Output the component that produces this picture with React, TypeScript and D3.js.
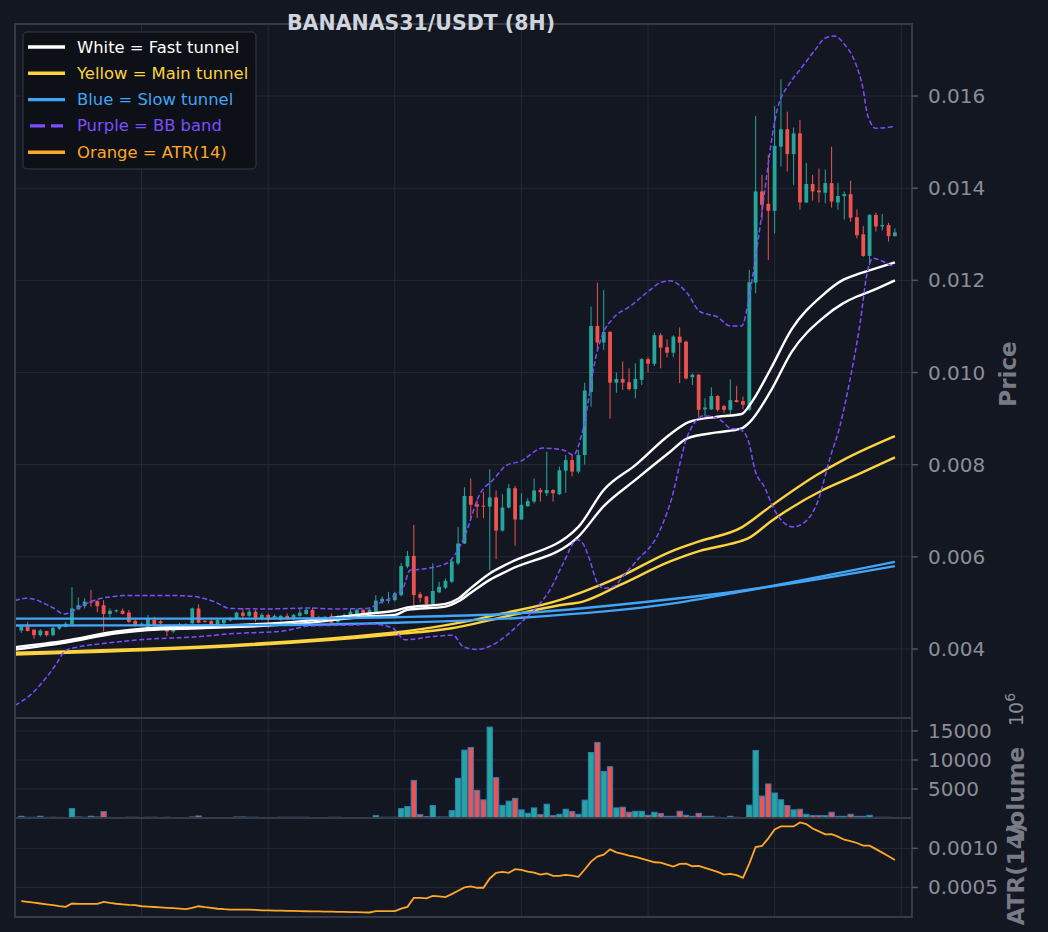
import * as d3 from 'd3'

// candles are indexed 1..139 (8H bars)
const OPEN = [
  0.0044, 0.00449, 0.00442, 0.0043, 0.00439, 0.0043, 0.00444, 0.00448, 0.00454, 0.00486,
  0.00493, 0.00503, 0.00504, 0.00495, 0.00476, 0.00483, 0.00483, 0.00479, 0.00461, 0.00452,
  0.00448, 0.00463, 0.0046, 0.0045, 0.00438, 0.00445, 0.00453, 0.00456, 0.00488, 0.00461,
  0.00461, 0.00452, 0.00456, 0.00462, 0.00467, 0.00479, 0.00472, 0.00481, 0.00467, 0.00474,
  0.00468, 0.00463, 0.00472, 0.00467, 0.00472, 0.00476, 0.00485, 0.00469, 0.00466, 0.00472,
  0.00459, 0.00469, 0.00474, 0.00474, 0.00485, 0.00474, 0.00481, 0.00503, 0.00505, 0.00506,
  0.00517, 0.00579, 0.00602, 0.00519, 0.00514, 0.00498, 0.00523, 0.00533, 0.00546, 0.00586,
  0.00629, 0.00732, 0.00714, 0.00711, 0.00709, 0.00729, 0.00657, 0.00707, 0.00749, 0.00681,
  0.0071, 0.0072, 0.00745, 0.00738, 0.00745, 0.00736, 0.00787, 0.0081, 0.00785, 0.00821,
  0.00958, 0.01101, 0.01065, 0.01088, 0.00978, 0.00986, 0.00979, 0.00964, 0.00984, 0.01029,
  0.01019, 0.01081, 0.01055, 0.01043, 0.01078, 0.01067, 0.0099, 0.00995, 0.0092, 0.0092,
  0.00949, 0.00927, 0.00919, 0.0094, 0.00938, 0.00919, 0.01195, 0.01393, 0.01366, 0.01351,
  0.0149, 0.01528, 0.01474, 0.01519, 0.01369, 0.01409, 0.01395, 0.0139, 0.01411, 0.01369,
  0.01383, 0.01387, 0.01337, 0.013, 0.01253, 0.01342, 0.01317, 0.0132, 0.01296,
]
const HIGH = [
  0.00451, 0.00459, 0.00443, 0.00443, 0.0044, 0.00448, 0.00454, 0.00459, 0.00534, 0.00512,
  0.0051, 0.00528, 0.00506, 0.00506, 0.00488, 0.00486, 0.00488, 0.00485, 0.00464, 0.00458,
  0.00474, 0.0047, 0.00463, 0.00452, 0.00448, 0.00457, 0.00456, 0.0049, 0.00497, 0.00463,
  0.00463, 0.00467, 0.00466, 0.0047, 0.00481, 0.00488, 0.00485, 0.00485, 0.00478, 0.00477,
  0.00475, 0.00474, 0.00477, 0.00476, 0.00488, 0.00488, 0.0049, 0.00472, 0.00472, 0.00477,
  0.00474, 0.00477, 0.00488, 0.00488, 0.00487, 0.00487, 0.00517, 0.00514, 0.00524, 0.00524,
  0.00587, 0.00613, 0.00669, 0.00524, 0.00515, 0.00586, 0.00546, 0.00553, 0.00597, 0.00665,
  0.00751, 0.0077, 0.00723, 0.00741, 0.0079, 0.00744, 0.00736, 0.00758, 0.00754, 0.00738,
  0.00727, 0.0077, 0.00749, 0.00828, 0.00747, 0.00796, 0.00821, 0.00823, 0.00832, 0.00978,
  0.01143, 0.01195, 0.01179, 0.0109, 0.01, 0.01024, 0.01009, 0.0102, 0.01031, 0.01033,
  0.01087, 0.01085, 0.01072, 0.01081, 0.01098, 0.01069, 0.00998, 0.00997, 0.00944, 0.00968,
  0.00951, 0.0093, 0.00985, 0.00971, 0.00948, 0.01223, 0.01557, 0.01429, 0.01472, 0.01578,
  0.01636, 0.01566, 0.01532, 0.01548, 0.01455, 0.01429, 0.01443, 0.01441, 0.0149, 0.01411,
  0.01393, 0.01416, 0.01354, 0.01318, 0.01344, 0.01347, 0.01344, 0.01325, 0.01313,
]
const LOW = [
  0.00435, 0.00438, 0.00422, 0.00427, 0.00427, 0.00428, 0.00441, 0.00447, 0.00452, 0.00485,
  0.00488, 0.00492, 0.0048, 0.00438, 0.00469, 0.00479, 0.00475, 0.00456, 0.00448, 0.00449,
  0.00445, 0.00448, 0.00448, 0.00428, 0.00435, 0.00443, 0.00448, 0.00454, 0.00456, 0.00457,
  0.0045, 0.00451, 0.00454, 0.0046, 0.00463, 0.00467, 0.00469, 0.00459, 0.00463, 0.00446,
  0.00465, 0.00461, 0.00463, 0.00464, 0.0047, 0.00474, 0.00467, 0.00463, 0.00463, 0.00456,
  0.00456, 0.00467, 0.0047, 0.00472, 0.00472, 0.00472, 0.00477, 0.00498, 0.00499, 0.00503,
  0.00514, 0.00575, 0.00492, 0.00501, 0.00495, 0.00495, 0.00521, 0.0053, 0.00543, 0.00582,
  0.00628, 0.00684, 0.00684, 0.00684, 0.0057, 0.00595, 0.00655, 0.00705, 0.00624, 0.0068,
  0.00709, 0.00716, 0.0072, 0.00732, 0.0072, 0.00734, 0.00739, 0.00775, 0.00781, 0.008,
  0.00926, 0.01049, 0.01049, 0.009, 0.00956, 0.00962, 0.00961, 0.00944, 0.00973, 0.01,
  0.01014, 0.01009, 0.01033, 0.01033, 0.00977, 0.00985, 0.00973, 0.00904, 0.00904, 0.00919,
  0.00915, 0.00913, 0.00906, 0.00935, 0.0092, 0.00916, 0.01172, 0.01331, 0.01244, 0.01302,
  0.01447, 0.01436, 0.01407, 0.01353, 0.01368, 0.01373, 0.01369, 0.01367, 0.01358, 0.01353,
  0.01332, 0.01327, 0.01291, 0.01251, 0.01233, 0.01306, 0.01308, 0.01284, 0.01295,
]
const CLOSE = [
  0.00449, 0.00439, 0.0043, 0.0044, 0.0043, 0.00446, 0.00451, 0.00455, 0.00488, 0.00495,
  0.00503, 0.00501, 0.00493, 0.00476, 0.00483, 0.00484, 0.00476, 0.00459, 0.00452, 0.00455,
  0.00467, 0.00451, 0.00456, 0.00438, 0.00445, 0.00454, 0.00451, 0.00488, 0.00457, 0.00459,
  0.00452, 0.00463, 0.00463, 0.00467, 0.00479, 0.00472, 0.00481, 0.00467, 0.00474, 0.00463,
  0.00472, 0.00472, 0.00465, 0.00474, 0.00479, 0.00485, 0.00469, 0.00466, 0.0047, 0.00457,
  0.0047, 0.00474, 0.00481, 0.00485, 0.00474, 0.00485, 0.00505, 0.00509, 0.00507, 0.00521,
  0.0058, 0.00602, 0.00517, 0.00511, 0.00498, 0.00526, 0.00535, 0.00548, 0.0059, 0.00629,
  0.00732, 0.00713, 0.00709, 0.0071, 0.00729, 0.00657, 0.00707, 0.00749, 0.00681, 0.00713,
  0.00721, 0.00744, 0.0074, 0.00745, 0.00738, 0.00788, 0.0081, 0.00785, 0.00821, 0.00961,
  0.01101, 0.01065, 0.01088, 0.00978, 0.00986, 0.00978, 0.00964, 0.00986, 0.01029, 0.01019,
  0.01081, 0.01054, 0.01043, 0.01078, 0.01065, 0.00987, 0.00995, 0.00919, 0.00924, 0.00949,
  0.00919, 0.00919, 0.0094, 0.00936, 0.0093, 0.01196, 0.01393, 0.01364, 0.01351, 0.01492,
  0.01528, 0.01474, 0.01519, 0.01369, 0.01409, 0.01393, 0.01391, 0.01411, 0.01371, 0.01383,
  0.01387, 0.01336, 0.01298, 0.01253, 0.01342, 0.01317, 0.0132, 0.01296, 0.01304,
]
// volume in units of 1e6
const VOLUME = [
  290, 120, 120, 300, 100, 120, 100, 60, 1620, 170,
  120, 300, 170, 1100, 100, 60, 60, 120, 120, 60,
  120, 120, 60, 120, 60, 60, 60, 170, 350, 60,
  60, 60, 60, 60, 170, 170, 120, 120, 60, 60,
  60, 120, 120, 120, 120, 120, 60, 60, 60, 120,
  120, 60, 60, 60, 60, 60, 400, 120, 120, 120,
  1620, 1970, 6480, 580, 230, 2140, 170, 170, 1270, 6830,
  11690, 12150, 4750, 3130, 15660, 6950, 2180, 2900, 3380, 1400,
  810, 1740, 580, 2380, 400, 640, 1510, 1100, 640, 3080,
  11280, 13020, 8020, 8840, 1740, 1860, 990, 1160, 1160, 470,
  990, 760, 290, 290, 1160, 470, 290, 810, 290, 290,
  120, 30, 290, 120, 30, 2210, 11630, 3780, 5870, 4300,
  3140, 2150, 1400, 1510, 640, 400, 400, 400, 990, 290,
  290, 640, 290, 290, 470, 120, 120, 120, 0,
]
const ATR = [
  0.000325, 0.000315, 0.000305, 0.000295, 0.000285, 0.000275, 0.000262, 0.000252, 0.000295, 0.00029,
  0.00029, 0.00029, 0.000289, 0.000316, 0.000303, 0.000292, 0.000285, 0.000278, 0.000273, 0.00026,
  0.000255, 0.00025, 0.000245, 0.00024, 0.000235, 0.00023, 0.000222, 0.00024, 0.00026, 0.000248,
  0.00024, 0.000228, 0.000222, 0.000218, 0.000218, 0.000218, 0.000218, 0.000214, 0.000206, 0.000206,
  0.000205, 0.000204, 0.000202, 0.0002, 0.000198, 0.000196, 0.000195, 0.000194, 0.000192, 0.00019,
  0.000188, 0.000187, 0.000186, 0.000184, 0.000182, 0.00018, 0.000197, 0.000197, 0.000197, 0.000197,
  0.00023, 0.000252, 0.000368, 0.000366, 0.00036, 0.000393, 0.000385, 0.000376, 0.000415, 0.000457,
  0.0005, 0.000513, 0.000496, 0.000496, 0.000615, 0.000688, 0.000698, 0.000687, 0.000733, 0.000725,
  0.000703, 0.00069, 0.000665, 0.000678, 0.000648, 0.000648, 0.00066, 0.000652, 0.000636, 0.000729,
  0.00083, 0.000894, 0.00092, 0.000987, 0.000949, 0.000928, 0.000907, 0.00089, 0.000869, 0.000847,
  0.000822, 0.000818, 0.000792, 0.000767, 0.000801, 0.000805, 0.000771, 0.000775, 0.00075, 0.000725,
  0.000699, 0.000665, 0.000674, 0.000657, 0.000623, 0.000805, 0.001017, 0.00103, 0.001127, 0.00124,
  0.00128, 0.00128, 0.00128, 0.00133, 0.00131, 0.001254, 0.001216, 0.001178, 0.00118, 0.00115,
  0.00111, 0.001093, 0.001068, 0.001034, 0.001034, 0.00099, 0.000945, 0.000898, 0.000852,
]

// overlay lines as [bar index, price] knots
type Knot = [number, number]
const FAST_A: Knot[] = [
  [0, 0.00404], [8, 0.00418], [16, 0.00438], [21, 0.00445], [29, 0.00449], [45, 0.0046],
  [56, 0.00477], [60, 0.00483], [62, 0.0049], [68, 0.00498], [70, 0.00509], [72, 0.00532],
  [75, 0.00564], [78, 0.00586], [89, 0.00665], [93, 0.00745], [98, 0.00799], [103.5, 0.00866],
  [106.5, 0.00893], [111, 0.00904], [114.8, 0.0091], [116.1, 0.0093], [119.3, 0.01006],
  [122.7, 0.01094], [127.6, 0.01168], [130.8, 0.01201], [133, 0.01213], [135.1, 0.01222], [139, 0.01239],
]
const FAST_B: Knot[] = [
  [0, 0.00399], [8, 0.00414], [16, 0.00434], [21, 0.00441], [29, 0.00445], [45, 0.00455],
  [56, 0.00471], [60, 0.00474], [62, 0.00485], [68, 0.00492], [70, 0.00503], [72, 0.00522],
  [75, 0.0055], [78, 0.00571], [89, 0.00644], [93, 0.0071], [98, 0.00767], [103.5, 0.00828],
  [106.2, 0.00857], [110.9, 0.0087], [114.8, 0.00879], [116.1, 0.00893], [119.3, 0.00958],
  [122.7, 0.01045], [127.6, 0.01118], [130.8, 0.0115], [133, 0.01165], [135.1, 0.01176], [139, 0.012],
]
const MAIN_A: Knot[] = [
  [0, 0.00392], [60, 0.00436], [69, 0.00454], [77, 0.00477], [86, 0.00506], [89.7, 0.00524],
  [95.6, 0.00557], [103.5, 0.00611], [108.2, 0.00634], [114.8, 0.00664], [119.3, 0.00709],
  [126.7, 0.00778], [130.8, 0.0081], [139, 0.00862],
]
const MAIN_B: Knot[] = [
  [0, 0.00388], [60, 0.00432], [69, 0.00445], [77, 0.00469], [86, 0.00495], [89.7, 0.00503],
  [95.6, 0.00539], [103.5, 0.0059], [108.2, 0.00613], [113, 0.00628], [115.8, 0.0064],
  [119.7, 0.0068], [127.6, 0.00745], [133, 0.00778], [139, 0.00816],
]
const SLOW_A: Knot[] = [
  [0, 0.00466], [40, 0.00466], [60, 0.00469], [80, 0.00478], [103.5, 0.00508], [114.5, 0.00526], [139, 0.0058],
]
const SLOW_B: Knot[] = [
  [0, 0.00451], [40, 0.00452], [60, 0.00457], [80, 0.00468], [103.5, 0.00498], [114.5, 0.00524], [139, 0.00589],
]
const BB_UPPER: Knot[] = [
  [0, 0.00505], [1.7, 0.0051], [3, 0.00508], [4.6, 0.00499], [6.2, 0.00488], [7.7, 0.00476],
  [8.5, 0.00478], [10.4, 0.00492], [12, 0.00503], [13.6, 0.0051], [15.6, 0.00514], [17.2, 0.00516],
  [25, 0.00516], [28.3, 0.00514], [30.3, 0.00508], [31.4, 0.00503], [34, 0.00488], [40, 0.00487],
  [46.6, 0.00489], [50.2, 0.00487], [55.6, 0.00488], [57.5, 0.00499], [59.7, 0.00514], [61.3, 0.00532],
  [62.4, 0.00571], [64, 0.00573], [68.2, 0.00586], [70.8, 0.00637], [73.5, 0.00738], [75.5, 0.00767],
  [77.7, 0.00799], [79.8, 0.00807], [83.4, 0.00836], [86.6, 0.00832], [88.2, 0.00821], [89.7, 0.00875],
  [91.9, 0.01042], [92.9, 0.01085], [94.5, 0.01118], [97.2, 0.01144], [100.3, 0.01179], [101.9, 0.01195],
  [103.5, 0.01199], [106.2, 0.01172], [108.2, 0.01132], [109.3, 0.01127], [110.9, 0.01121], [113, 0.01101],
  [114.8, 0.01101], [115.8, 0.0115], [116.6, 0.01215], [117.4, 0.01288], [120.4, 0.0157], [122.4, 0.01628],
  [124, 0.01657], [126.4, 0.017], [128, 0.01726], [129.5, 0.0173], [131.1, 0.01711], [132.7, 0.01674],
  [134, 0.01613], [134.6, 0.01563], [135.1, 0.01544], [135.9, 0.0153], [139, 0.01534],
]
const BB_LOWER: Knot[] = [
  [0, 0.00278], [2.4, 0.003], [4.4, 0.00329], [6.6, 0.00369], [7.9, 0.00396], [9.8, 0.00404],
  [13.4, 0.00411], [19.7, 0.0042], [29.2, 0.00427], [34, 0.00433], [42.3, 0.00439], [44.5, 0.00445],
  [46.6, 0.0045], [52.9, 0.00452], [56.6, 0.00454], [59.7, 0.00445], [61.6, 0.0042], [66, 0.00427],
  [69.2, 0.0043], [70.8, 0.00405], [73, 0.00399], [75, 0.00406], [77.7, 0.0043], [79.8, 0.00456],
  [82.5, 0.00492], [84.5, 0.00528], [86.6, 0.00586], [88.8, 0.00637], [89.7, 0.00629], [90.8, 0.00593],
  [91.9, 0.00546], [92.9, 0.00532], [94.5, 0.00535], [96, 0.00557], [98.3, 0.00593], [101.4, 0.00644],
  [103.5, 0.00716], [106.2, 0.00861], [107.7, 0.00897], [108.7, 0.00906], [110.3, 0.00904],
  [111.8, 0.00893], [113, 0.00879], [114.5, 0.00877], [115.8, 0.00854], [116.9, 0.00788],
  [118.5, 0.00749], [119.7, 0.00709], [121.3, 0.00676], [122.9, 0.00665], [124.8, 0.00676],
  [126.7, 0.00716], [128.8, 0.00817], [130.3, 0.00883], [131.9, 0.00984], [133.5, 0.01107],
  [134.6, 0.01215], [135.5, 0.01248], [137.1, 0.01241], [138.7, 0.0123],
]

const PRICE_TICKS = [0.004, 0.006, 0.008, 0.01, 0.012, 0.014, 0.016]
const VOLUME_TICKS = [5000, 10000, 15000]
const ATR_TICKS = [0.0005, 0.001]
const X_GRID = [20, 40, 60, 80, 100, 120, 140]

const LEGEND = [
  { label: 'White = Fast tunnel', color: '#ffffff', dashed: false },
  { label: 'Yellow = Main tunnel', color: '#fdd33f', dashed: false },
  { label: 'Blue = Slow tunnel', color: '#42a5f5', dashed: false },
  { label: 'Purple = BB band', color: '#7c4dff', dashed: true },
  { label: 'Orange = ATR(14)', color: '#ffa726', dashed: false },
]

const BG = '#131722'
const GRID = '#262a35'
const SPINE = '#363a45'
const TICK_TEXT = '#8b8e97'
const LABEL = '#787b86'
const UP = '#26a69a'
const DOWN = '#ef5350'
const FONT = 'DejaVu Sans, Verdana, sans-serif'

const W = 1048
const H = 932
const left = 15
const right = 912
const priceBox = { top: 24, bottom: 718 }
const volBox = { top: 718, bottom: 818 }
const atrBox = { top: 818, bottom: 917 }

export default function App() {
  const x = d3.scaleLinear().domain([0, 141.7]).range([left, right])
  const y = d3.scaleLinear().domain([0.002503, 0.017563]).range([priceBox.bottom, priceBox.top])
  const vMax = d3.max(VOLUME) ?? 1
  const yv = d3.scaleLinear().domain([0, vMax * 1.1]).range([volBox.bottom, volBox.top])
  const [aMin, aMax] = d3.extent(ATR) as [number, number]
  const pad = (aMax - aMin) * 0.05
  const ya = d3.scaleLinear().domain([aMin - pad, aMax + pad]).range([atrBox.bottom, atrBox.top])

  const bars = OPEN.map((o, k) => ({
    i: k + 1,
    o,
    h: HIGH[k],
    l: LOW[k],
    c: CLOSE[k],
    v: VOLUME[k],
    a: ATR[k],
  }))

  const step = x(1) - x(0)
  const bodyW = step * 0.6
  const volW = step * 0.84

  const knotLine = d3
    .line<Knot>()
    .x((d) => x(d[0]))
    .y((d) => y(d[1]))
    .curve(d3.curveMonotoneX)
  const atrLine = d3
    .line<(typeof bars)[number]>()
    .x((d) => x(d.i))
    .y((d) => ya(d.a))

  const panels = [priceBox, volBox, atrBox]

  return (
    <svg
      width={W}
      height={H}
      style={{ position: 'fixed', left: 0, top: 0, background: BG }}
      fontFamily={FONT}
    >
      <rect width={W} height={H} fill={BG} />
      <defs>
        <clipPath id="clip-price">
          <rect x={left} y={priceBox.top} width={right - left} height={priceBox.bottom - priceBox.top} />
        </clipPath>
        <clipPath id="clip-vol">
          <rect x={left} y={volBox.top} width={right - left} height={volBox.bottom - volBox.top} />
        </clipPath>
        <clipPath id="clip-atr">
          <rect x={left} y={atrBox.top} width={right - left} height={atrBox.bottom - atrBox.top} />
        </clipPath>
      </defs>

      {/* grids */}
      {panels.map((p, pi) =>
        X_GRID.map((g) => (
          <line key={`vg${pi}-${g}`} x1={x(g)} x2={x(g)} y1={p.top} y2={p.bottom} stroke={GRID} strokeWidth={1} />
        )),
      )}
      {PRICE_TICKS.map((t) => (
        <line key={`pg${t}`} x1={left} x2={right} y1={y(t)} y2={y(t)} stroke={GRID} strokeWidth={1} />
      ))}
      {VOLUME_TICKS.map((t) => (
        <line key={`vgh${t}`} x1={left} x2={right} y1={yv(t)} y2={yv(t)} stroke={GRID} strokeWidth={1} />
      ))}
      {ATR_TICKS.map((t) => (
        <line key={`ag${t}`} x1={left} x2={right} y1={ya(t)} y2={ya(t)} stroke={GRID} strokeWidth={1} />
      ))}

      {/* candles */}
      <g clipPath="url(#clip-price)">
        {bars.map((b) => {
          const col = b.c >= b.o ? UP : DOWN
          const top = y(Math.max(b.o, b.c))
          const bot = y(Math.min(b.o, b.c))
          return (
            <g key={b.i}>
              <line x1={x(b.i)} x2={x(b.i)} y1={y(b.h)} y2={y(b.l)} stroke={col} strokeWidth={1} />
              <rect x={x(b.i) - bodyW / 2} y={top} width={bodyW} height={Math.max(1, bot - top)} fill={col} />
            </g>
          )
        })}
        {[FAST_A, FAST_B].map((s, k) => (
          <path key={`f${k}`} d={knotLine(s) ?? undefined} fill="none" stroke="#ffffff" strokeWidth={2.4} />
        ))}
        {[MAIN_A, MAIN_B].map((s, k) => (
          <path key={`m${k}`} d={knotLine(s) ?? undefined} fill="none" stroke="#fdd33f" strokeWidth={2.4} />
        ))}
        {[SLOW_A, SLOW_B].map((s, k) => (
          <path key={`s${k}`} d={knotLine(s) ?? undefined} fill="none" stroke="#42a5f5" strokeWidth={2.4} />
        ))}
        {[BB_UPPER, BB_LOWER].map((s, k) => (
          <path
            key={`b${k}`}
            d={knotLine(s) ?? undefined}
            fill="none"
            stroke="#7c4dff"
            strokeWidth={1.5}
            strokeDasharray="5,2.5"
          />
        ))}
      </g>

      {/* volume */}
      <g clipPath="url(#clip-vol)">
        {bars.map((b) => (
          <rect
            key={`v${b.i}`}
            x={x(b.i) - volW / 2}
            y={yv(b.v)}
            width={volW}
            height={yv(0) - yv(b.v)}
            fill={b.c >= b.o ? UP : DOWN}
            stroke="#2f7fc1"
            strokeWidth={1}
          />
        ))}
      </g>

      {/* ATR */}
      <g clipPath="url(#clip-atr)">
        <path d={atrLine(bars) ?? undefined} fill="none" stroke="#ffa726" strokeWidth={1.8} />
      </g>

      {/* spines */}
      {panels.map((p, pi) => (
        <rect
          key={`sp${pi}`}
          x={left}
          y={p.top}
          width={right - left}
          height={p.bottom - p.top}
          fill="none"
          stroke={SPINE}
          strokeWidth={2}
        />
      ))}

      {/* right axis ticks */}
      {PRICE_TICKS.map((t) => (
        <g key={`pt${t}`}>
          <line x1={right} x2={right + 6} y1={y(t)} y2={y(t)} stroke="#50545e" strokeWidth={1.5} />
          <text x={928} y={y(t)} dominantBaseline="central" fontSize={20} fill={TICK_TEXT}>
            {d3.format('.3f')(t)}
          </text>
        </g>
      ))}
      {VOLUME_TICKS.map((t) => (
        <g key={`vt${t}`}>
          <line x1={right} x2={right + 6} y1={yv(t)} y2={yv(t)} stroke="#50545e" strokeWidth={1.5} />
          <text x={928} y={yv(t)} dominantBaseline="central" fontSize={20} fill={TICK_TEXT}>
            {t}
          </text>
        </g>
      ))}
      {ATR_TICKS.map((t) => (
        <g key={`at${t}`}>
          <line x1={right} x2={right + 6} y1={ya(t)} y2={ya(t)} stroke="#50545e" strokeWidth={1.5} />
          <text x={928} y={ya(t)} dominantBaseline="central" fontSize={20} fill={TICK_TEXT}>
            {d3.format('.4f')(t)}
          </text>
        </g>
      ))}

      {/* axis labels */}
      <text
        transform="translate(1008,374) rotate(-90)"
        textAnchor="middle"
        dominantBaseline="central"
        fontSize={23}
        fontWeight="bold"
        fill={LABEL}
      >
        Price
      </text>
      <text
        transform="translate(1016,795) rotate(-90)"
        textAnchor="middle"
        dominantBaseline="central"
        fontSize={23}
        fontWeight="bold"
        fill={LABEL}
      >
        Volume
      </text>
      <text
        transform="translate(1016,874) rotate(-90)"
        textAnchor="middle"
        dominantBaseline="central"
        fontSize={23}
        fontWeight="bold"
        fill={LABEL}
      >
        ATR(14)
      </text>
      <text transform="translate(1023,726) rotate(-90)" fontSize={19} fill={TICK_TEXT}>
        10
        <tspan dy={-8} fontSize={14}>
          6
        </tspan>
      </text>

      {/* title */}
      <text x={421} y={30} textAnchor="middle" fontSize={20.5} fontWeight="bold" fill="#d1d4dc">
        BANANAS31/USDT (8H)
      </text>

      {/* legend */}
      <rect x={23} y={32} width={233} height={137} rx={4} fill="#0d1016" fillOpacity={0.92} stroke="#2a2e39" strokeWidth={1.5} />
      {LEGEND.map((e, k) => {
        const ry = 47 + k * 26.3
        return (
          <g key={e.label}>
            <line
              x1={e.dashed ? 30 : 28}
              x2={e.dashed ? 63 : 65}
              y1={ry}
              y2={ry}
              stroke={e.color}
              strokeWidth={3.4}
              strokeDasharray={e.dashed ? '15,6' : undefined}
            />
            <text x={77} y={ry} dominantBaseline="central" fontSize={16.4} fill={e.color}>
              {e.label}
            </text>
          </g>
        )
      })}
    </svg>
  )
}
